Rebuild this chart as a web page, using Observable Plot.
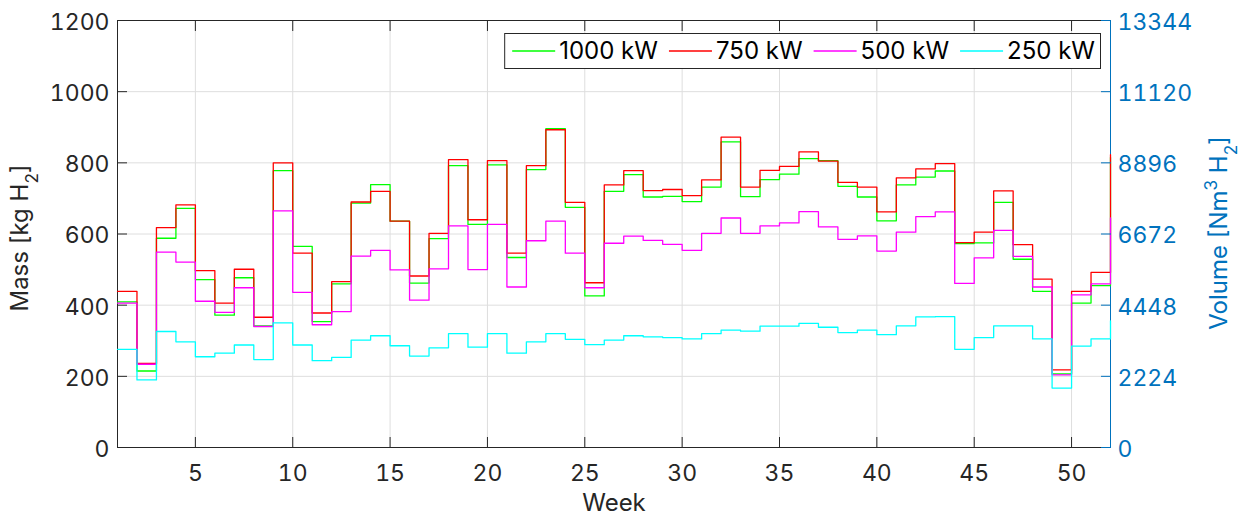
<!DOCTYPE html>
<html>
<head>
<meta charset="utf-8">
<script src="https://cdn.jsdelivr.net/npm/d3@7"></script>
<script src="https://cdn.jsdelivr.net/npm/@observablehq/plot@0.6"></script>
<style>
  html, body { margin: 0; padding: 0; background: #fff; }
  #chart { width: 1251px; height: 518px; }
</style>
</head>
<body>
<div id="chart"></div>
<script>
// Weekly hydrogen production per electrolyser size (kg H2 per week)
const weeks = [1,2,3,4,5,6,7,8,9,10,11,12,13,14,15,16,17,18,19,20,21,22,23,24,25,26,
               27,28,29,30,31,32,33,34,35,36,37,38,39,40,41,42,43,44,45,46,47,48,49,50,51,52];

const mass1000 = [409,215,588,672,472,372,477,342,778,565,354,460,687,739,636,462,587,792,627,794,534,781,896,675,426,720,
                  767,704,706,691,732,859,705,753,768,812,806,734,704,637,738,760,777,573,575,689,529,439,207,406,455,815];
const mass750  = [439,236,618,682,497,406,501,366,800,546,378,466,690,720,636,482,602,809,640,806,546,792,893,689,463,738,
                  778,722,725,708,752,872,732,779,790,831,805,745,732,662,758,783,798,576,605,721,570,473,218,439,492,823];
const mass500  = [406,234,549,521,411,380,449,340,665,436,345,382,538,554,499,414,502,623,500,627,451,581,636,546,449,574,
                  594,582,571,554,602,645,602,623,631,663,620,585,595,552,605,649,662,461,533,610,537,451,204,429,460,645];
const mass250  = [276,190,326,297,255,265,288,247,350,288,244,253,302,314,286,257,280,320,282,320,265,297,320,304,289,302,
                  314,311,309,305,320,330,327,341,341,349,338,323,330,317,342,367,368,276,309,342,342,305,167,285,305,356];

const seriesNames  = ["1000 kW", "750 kW", "500 kW", "250 kW"];
const seriesColors = ["#00ff00", "#ff0000", "#ff00ff", "#00ffff"];
const seriesValues = [mass1000, mass750, mass500, mass250];

// Axis ticks: mass on the left, equivalent volume (Nm3) on the right
const weekTicks   = [5,10,15,20,25,30,35,40,45,50];
const massTicks   = [0,200,400,600,800,1000,1200];
const volumeTicks = [0,2224,4448,6672,8896,11120,13344];

const rows = [];
seriesValues.forEach((values, s) =>
  values.forEach((v, i) => rows.push({week: weeks[i], mass: v, series: seriesNames[s]}))
);

const ink = "#262626";
const blue = "#0072bd";
const font = "Inter, 'Liberation Sans', Arial, sans-serif";
const fs = 23;

const plot = Plot.plot({
  width: 1251,
  height: 518,
  marginLeft: 117,
  marginRight: 141,
  marginTop: 20,
  marginBottom: 71,
  style: {fontFamily: font, fontSize: fs + "px", color: ink, background: "#fff"},
  x: {domain: [1, 52]},
  y: {domain: [0, 1200]},
  color: {domain: seriesNames, range: seriesColors},
  marks: [
    Plot.gridX(weekTicks, {stroke: "#dedede", strokeOpacity: 1}),
    Plot.gridY(massTicks, {stroke: "#dedede", strokeOpacity: 1}),
    Plot.ruleX([1], {stroke: ink}),
    Plot.ruleX([52], {stroke: blue}),
    Plot.ruleY([0], {stroke: ink}),
    Plot.ruleY([1200], {stroke: ink}),
    Plot.line(rows, {x: "week", y: "mass", z: "series", stroke: "series", curve: "step-after", strokeWidth: 1.3}),
    // inward tick marks
    Plot.axisX(weekTicks, {anchor: "bottom", tickSize: -10, fill: "none", stroke: ink, label: null}),
    Plot.axisX(weekTicks, {anchor: "top", tickSize: -10, fill: "none", stroke: ink, label: null}),
    Plot.axisY(massTicks, {anchor: "left", tickSize: -10, fill: "none", stroke: ink, label: null}),
    Plot.axisY(massTicks, {anchor: "right", tickSize: -10, fill: "none", stroke: blue, label: null}),
    // tick labels
    Plot.axisX(weekTicks, {anchor: "bottom", tickSize: 0, tickPadding: 17, fill: ink, label: null, tickFormat: "d"}),
    Plot.axisY(massTicks, {anchor: "left", tickSize: 0, tickPadding: 8, dy: 2, fill: ink, label: null, tickFormat: "d"}),
    Plot.axisY(massTicks, {anchor: "right", tickSize: 0, tickPadding: 7, dy: 2, fill: blue, label: null,
                           tickFormat: d => String(volumeTicks[massTicks.indexOf(d)])})
  ]
});

document.getElementById("chart").appendChild(plot);
const svg = d3.select(plot);

// Axis titles with sub/superscripts
function axisTitle(parts, {x, y, rotate = 0, color, size}) {
  const t = svg.append("text")
    .attr("transform", `translate(${x},${y}) rotate(${rotate})`)
    .attr("text-anchor", "middle")
    .attr("fill", color)
    .style("font-family", font)
    .style("font-size", size + "px");
  for (const p of parts) {
    const ts = t.append("tspan").text(p.text);
    if (p.shift) ts.attr("baseline-shift", p.shift).style("font-size", Math.round(size * 0.72) + "px");
  }
}

axisTitle([{text: "Mass [kg H"}, {text: "2", shift: "sub"}, {text: "]"}],
          {x: 27.5, y: 238, rotate: -90, color: ink, size: 24});
axisTitle([{text: "Volume [Nm"}, {text: "3", shift: "super"}, {text: " H"}, {text: "2", shift: "sub"}, {text: "]"}],
          {x: 1227, y: 233, rotate: -90, color: blue, size: 24});
axisTitle([{text: "Week"}], {x: 614, y: 511, color: ink, size: 24});

// Legend (top right, inside the axes)
const legend = svg.append("g");
const box = legend.append("rect").attr("fill", "#fff").attr("stroke", ink).attr("stroke-width", 1);
let cx = 8;
seriesNames.forEach((name, i) => {
  legend.append("line")
    .attr("x1", cx).attr("x2", cx + 43).attr("y1", 18).attr("y2", 18)
    .attr("stroke", seriesColors[i]).attr("stroke-width", 1.3);
  const t = legend.append("text")
    .attr("x", cx + 47).attr("y", 18).attr("dy", "0.35em")
    .attr("text-anchor", "start")
    .attr("fill", "#000")
    .style("font-family", font).style("font-size", "24px")
    .text(name);
  cx += 47 + t.node().getComputedTextLength() + 11;
});
const boxW = cx - 6;
box.attr("x", 0.5).attr("y", 0.5).attr("width", boxW).attr("height", 35);
legend.attr("transform", `translate(${1100 - boxW},${33})`);
</script>
</body>
</html>
